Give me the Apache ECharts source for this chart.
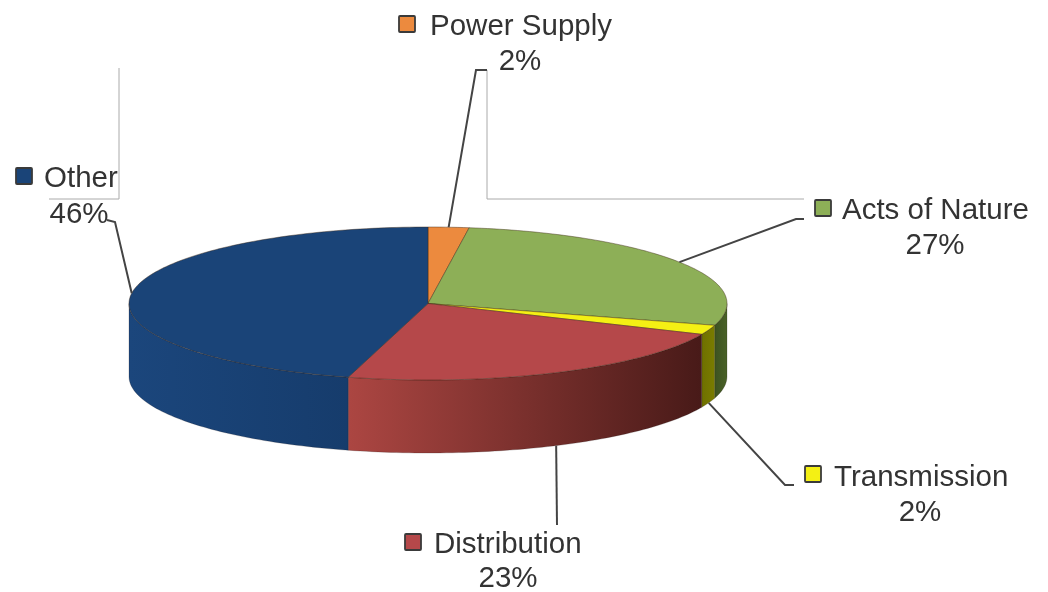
<!DOCTYPE html>
<html>
<head>
<meta charset="utf-8">
<style>html,body{margin:0;padding:0;background:#fff}#c{width:1048px;height:592px}</style>
<script src="https://cdn.jsdelivr.net/npm/echarts@6/dist/echarts.min.js"></script>
</head>
<body>
<div id="c"></div>
<script>
const categories = ['Power Supply', 'Acts of Nature', 'Transmission', 'Distribution', 'Other'];
const shares = [2.2, 27.4, 2.0, 22.7, 45.7];
const topColors = ['#EC8A3E', '#8DAF57', '#F4F014', '#B5484A', '#1A4478'];
const sideLeftColors = ['#B86A2C', '#3C5120', '#6E7000', '#AC4642', '#1B467C'];
const sideRightColors = ['#A35E28', '#4A6228', '#7A7C00', '#481A18', '#163C6C'];
const swatchXY = [[399, 16], [815, 200], [805, 466], [405, 534], [16, 168]];
const nameXY = [[430, 27], [842, 211], [834, 478], [434, 545], [44, 179]];
const pctXY = [[520, 62], [935, 246], [920, 513], [508, 579], [79, 215]];
const leaderBends = [
  [[476, 70], [487, 70]],
  [[796, 219], [804, 219]],
  [[785, 485], [794, 485]],
  [[557, 525]],
  [[115, 222], [107, 220]]
];
const frameLines = [
  [[119, 68], [119, 199], [49, 199]],
  [[487, 70], [487, 199], [804, 199]]
];

const CX = 428, CY = 303.5, RX = 299, RY = 76.5, DEPTH = 73;
const TEXT = '#333333';
const FONT = '"Liberation Sans", Arial, sans-serif';
const starts = shares.map((_, i) => shares.slice(0, i).reduce((a, b) => a + b, 0));
const rim = (pct, dy) => {
  const t = pct / 100 * 2 * Math.PI;
  return [CX + RX * Math.sin(t), CY - RY * Math.cos(t) + (dy || 0)];
};
const arc = (a, b, dy) => {
  const pts = [], n = Math.max(2, Math.ceil((b - a) * 3));
  for (let k = 0; k <= n; k++) pts.push(rim(a + (b - a) * k / n, dy));
  return pts;
};

function renderItem(params, api) {
  const i = params.dataIndex;
  const start = api.value(0), val = api.value(1), end = start + val;
  const children = [];
  // side wall only on the front half of the ellipse
  const a = Math.max(start, 25), b = Math.min(end, 75);
  if (b > a) {
    children.push({
      type: 'polygon',
      shape: { points: arc(a, b, 0).concat(arc(a, b, DEPTH).reverse()) },
      style: {
        fill: {
          type: 'linear', x: 0, y: 0, x2: 1, y2: 0,
          colorStops: [
            { offset: 0, color: sideLeftColors[i] },
            { offset: 1, color: sideRightColors[i] }
          ]
        },
        stroke: 'rgba(30,20,20,0.35)', lineWidth: 0.6
      }
    });
  }
  // top face
  children.push({
    type: 'polygon',
    shape: { points: [[CX, CY]].concat(arc(start, end, 0)) },
    style: { fill: topColors[i], stroke: 'rgba(60,40,20,0.55)', lineWidth: 0.8 }
  });
  // leader line starts at the slice's mid angle
  const mid = start + val / 2;
  const onFront = mid > 25 && mid < 75;
  children.push({
    type: 'polyline',
    shape: { points: [rim(mid, onFront ? DEPTH : 0)].concat(leaderBends[i]) },
    style: { fill: null, stroke: '#444', lineWidth: 2 }
  });
  children.push({
    type: 'rect',
    shape: { x: swatchXY[i][0], y: swatchXY[i][1], width: 16, height: 16, r: 1 },
    style: { fill: topColors[i], stroke: '#3a3a3a', lineWidth: 1.8 }
  });
  children.push({
    type: 'text',
    style: { x: nameXY[i][0], y: nameXY[i][1], text: categories[i], fill: TEXT,
      fontSize: 29.5, fontFamily: FONT, align: 'left', verticalAlign: 'middle' }
  });
  children.push({
    type: 'text',
    style: { x: pctXY[i][0], y: pctXY[i][1], text: Math.round(val) + '%', fill: TEXT,
      fontSize: 29.5, fontFamily: FONT, align: 'center', verticalAlign: 'middle' }
  });
  return { type: 'group', children };
}

const chart = echarts.init(document.getElementById('c'));
chart.setOption({
  animation: false,
  backgroundColor: '#fff',
  graphic: frameLines.map(points => ({
    type: 'polyline', shape: { points },
    style: { fill: null, stroke: '#aaaaaa', lineWidth: 1 }, silent: true
  })),
  series: [{
    type: 'custom',
    coordinateSystem: 'none',
    renderItem,
    data: shares.map((v, i) => [starts[i], v, categories[i]])
  }]
});
</script>
</body>
</html>
